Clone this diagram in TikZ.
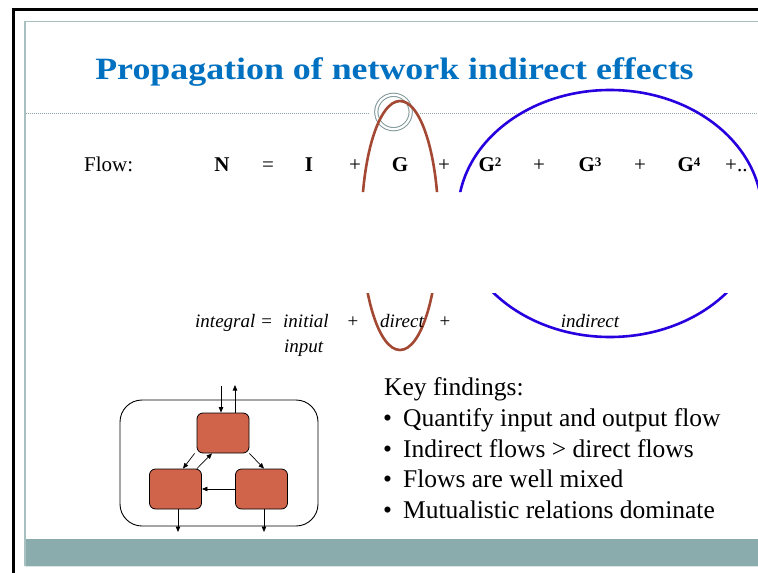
\documentclass[tikz,border=0pt]{standalone}
\usepackage{fontspec}
\setmainfont{Liberation Serif}
\usetikzlibrary{arrows.meta,calc}

\definecolor{titleblue}{RGB}{0,112,192}
\definecolor{framegrey}{RGB}{168,192,192}
\definecolor{dotgrey}{RGB}{140,168,168}
\definecolor{bandteal}{RGB}{139,172,172}
\definecolor{loopbrown}{RGB}{163,72,50}
\definecolor{loopblue}{RGB}{40,0,224}
\definecolor{boxfill}{RGB}{208,100,75}

\newcommand{\pw}[1]{{\fontsize{13}{13}\selectfont\raisebox{5pt}{#1}}}

\tikzset{
  titletext/.style={font=\fontsize{31}{31}\selectfont\bfseries, text=titleblue, anchor=base, inner sep=0},
  eqtext/.style={font=\fontsize{21}{21}\selectfont, anchor=base, inner sep=0},
  eqbold/.style={font=\fontsize{21}{21}\selectfont\bfseries, anchor=base, inner sep=0},
  wordtext/.style={font=\fontsize{19}{19}\selectfont\itshape, anchor=base, inner sep=0},
  listtext/.style={font=\fontsize{25.5}{25.5}\selectfont, anchor=base west, inner sep=0},
  compartment/.style={draw=black, line width=0.8pt, fill=boxfill, rounded corners=6pt, minimum width=52pt, minimum height=40pt, inner sep=0},
  flowarrow/.style={draw=black, line width=0.7pt, -{Triangle[length=5.5pt,width=4.5pt]}},
  loop/.style={line width=2.6pt}
}

\begin{document}
\begin{tikzpicture}[x=1pt,y=-1pt]
\useasboundingbox (0,0) rectangle (758,573);
\clip (0,0) rectangle (758,573);
\fill[white] (0,0) rectangle (758,573);

% outer black frame
\draw[black, line width=3pt] (13.5,573) -- (13.5,9.5) -- (760,9.5);
% slide frame
\draw[framegrey, line width=1.5pt] (25,566) -- (25,21.5) -- (760,21.5);
\draw[framegrey!40, line width=0.8pt] (25,566.5) -- (760,566.5);
% footer band
\fill[bandteal] (25.5,539) rectangle (760,565.5);

% title
\node[titletext] (title) at (394.5,79) {\scalebox{1.157}[1]{Propagation of network indirect effects}};

% dotted rule with ring ornament
\coordinate (ringc) at (393.5,112);
\draw[dotgrey, line width=1pt, dash pattern=on 1pt off 1pt] (25.5,113.5) -- (368,113.5);
\draw[dotgrey, line width=1pt, dash pattern=on 1pt off 1pt] (420,113.5) -- (760,113.5);
\draw[dotgrey!90!black, line width=1pt, double=white, double distance=2.2pt] (ringc) circle [radius=17.2pt];

% loops marking the direct and indirect terms
\begin{scope}
  \clip (0,0) rectangle (758,192) (0,293) rectangle (758,573);
  \draw[loopbrown, loop] (400,225.5) ellipse [x radius=38.4pt, y radius=124.5pt];
  \draw[loopblue, loop] (610,213.5) ellipse [x radius=152pt, y radius=123.5pt];
\end{scope}

% flow equation
\node[eqtext, anchor=base west] (flowlbl) at (84,171) {Flow:};
\node[eqbold] (tN) at (222,171) {N};
\node[eqtext] (eq1) at (268,171) {=};
\node[eqbold] (tI) at (309,171) {I};
\node[eqtext] (p1) at (355,171) {+};
\node[eqbold] (tG) at (400,171) {G};
\node[eqtext] (p2) at (444,171) {+};
\node[eqbold] (tG2) at (490,171) {G\pw{2}};
\node[eqtext] (p3) at (539,171) {+};
\node[eqbold] (tG3) at (590,171) {G\pw{3}};
\node[eqtext] (p4) at (640,171) {+};
\node[eqbold] (tG4) at (689,171) {G\pw{4}};
\node[eqtext, anchor=base west] (pdots) at (725,171) {+..};

% word equation
\node[wordtext, anchor=base west] (wint) at (195,327) {integral =};
\node[wordtext, anchor=base west] (winit) at (283,327) {initial};
\node[wordtext, anchor=base west] (winput) at (284,352) {input};
\node[eqtext, font=\fontsize{19}{19}\selectfont] (wp1) at (353,327) {+};
\node[wordtext, anchor=base west] (wdir) at (380,327) {direct};
\node[eqtext, font=\fontsize{19}{19}\selectfont] (wp2) at (445,327) {+};
\node[wordtext] (wind) at (590,327) {indirect};

% key findings
\node[listtext] (kf) at (384,395) {Key findings:};
\foreach \yy/\txt [count=\i] in {426/Quantify input and output flow, 457/Indirect flows > direct flows, 487/Flows are well mixed, 518/Mutualistic relations dominate}{
  \node[listtext] (bul\i) at (383,\yy) {•};
  \node[listtext] (item\i) at (403,\yy) {\txt};
}

% compartment network
\node[draw=black, line width=0.9pt, rounded corners=22pt, minimum width=198pt, minimum height=126pt, inner sep=0] (system) at (219,463) {};
\node[compartment] (t) at (223,433) {};
\node[compartment] (bl) at (175.5,489) {};
\node[compartment] (br) at (261.5,489) {};

\coordinate (inflow) at (221,386);
\coordinate (outflow) at (235,385);
\coordinate (blout) at (178,532);
\coordinate (brout) at (264,532);

\draw[flowarrow] (inflow) -- ($(t.north)+(-2,0)$);
\draw[flowarrow] ($(t.north)+(12,0)$) -- (outflow);
\draw[flowarrow] ($(t.south west)+(-2,0)$) -- ($(bl.north)+(7.5,0)$);
\draw[flowarrow] ($(bl.north east)+(-5,0)$) -- ($(t.south)+(-11,0)$);
\draw[flowarrow] (t.south east) -- ($(br.north)+(2.5,0)$);
\draw[flowarrow] (br.west) -- (bl.east);
\draw[flowarrow] ($(bl.south)+(2.5,0)$) -- (blout);
\draw[flowarrow] ($(br.south)+(2.5,0)$) -- (brout);
\end{tikzpicture}
\end{document}
